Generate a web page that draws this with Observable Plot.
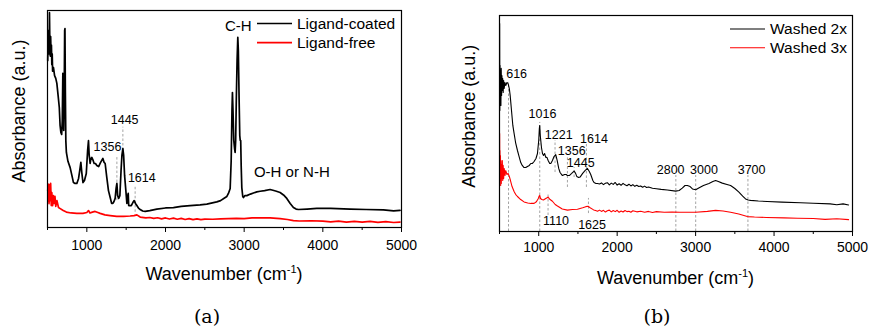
<!DOCTYPE html>
<html>
<head>
<meta charset="utf-8">
<script src="https://cdn.jsdelivr.net/npm/d3@7"></script>
<script src="https://cdn.jsdelivr.net/npm/@observablehq/plot@0.6"></script>
<style>
  html, body { margin: 0; padding: 0; background: #fff; }
  #wrap { position: relative; width: 871px; height: 328px; overflow: hidden; background: #fff; }
  #wrap svg { position: absolute; top: 0; }
  .cap { position: absolute; font-family: "DejaVu Serif", serif; font-size: 19px; color: #000; transform: translateX(-50%); line-height: 1; }
</style>
</head>
<body>
<div id="wrap"></div>
<script>
// ---------------- DATA ----------------
const majorTicks = [1000, 2000, 3000, 4000, 5000];
const minorTicks = [500, 1500, 2500, 3500, 4500];

// Panel (a): [wavenumber, absorbance a.u.]
const aCoated = [
  [503,77],[508,88],[515,90.8],[520,80],[525,99],[530,84],[535,79],[540,88],[545,80],[550,84],[555,75],[560,80],[565,72],
  [576,73.7],[590,70],[605,68.7],[619,66.4],[635,60.8],[650,55.3],[660,47],[670,43.8],[680,42.9],[688,49.3],[695,71],
  [700,53.9],[706,44.7],[712,58.5],[718,90.8],[722,91.7],[727,63],[733,40],[740,34.6],[760,30.5],[788,27.6],[810,24],
  [830,20.7],[850,20.3],[873,20.3],[895,22.6],[910,26.3],[924,30],[936,25.3],[951,20.7],[970,21.7],[993,24.9],[1010,35.5],
  [1021,40],[1030,33.2],[1042,29.5],[1052,31.8],[1063,32.3],[1080,30.9],[1093,29.5],[1110,29.5],[1127,28.6],[1150,28.1],
  [1175,30],[1204,31.8],[1220,30],[1233,29.5],[1254,23],[1275,17],[1297,13.8],[1315,11.1],[1331,11.1],[1345,12],[1360,13.4],
  [1372,18],[1382,20.3],[1392,14.7],[1405,13.4],[1420,14.7],[1435,26.3],[1446,33.2],[1458,36.4],[1468,33.2],[1480,24],
  [1496,17],[1509,11.1],[1520,14.7],[1526,15.7],[1532,10.1],[1545,10.1],[1565,10.1],[1585,11.5],[1602,12.4],[1618,11.1],
  [1636,10.1],[1660,8.8],[1678,8.3],[1710,7.6],[1742,7.4],[1800,7.8],[1890,8.5],[2000,9],[2101,9.2],[2200,9.7],[2313,10.1],
  [2440,10.4],[2525,10.8],[2652,11.8],[2700,12.4],[2750,13.6],[2780,14.3],[2800,15.7],[2822,18],[2835,30.9],[2845,53.9],
  [2851,62.2],[2858,53.9],[2868,40.1],[2878,36.4],[2885,34.6],[2892,40.1],[2900,58.5],[2910,77],[2919,87.6],[2926,81.6],
  [2936,58.5],[2944,42.4],[2950,40.1],[2956,40.1],[2962,28.6],[2970,18.4],[2982,14.3],[2991,13.8],[3010,14.7],[3034,14.7],
  [3080,15.4],[3118,15.9],[3160,16.4],[3203,16.7],[3260,17],[3330,17.5],[3400,16.8],[3457,16.1],[3500,15],[3542,13.4],
  [3585,11.1],[3626,9.2],[3660,8.5],[3690,8.3],[3800,8.5],[3923,8.8],[4100,8.8],[4346,8.5],[4550,8.3],[4770,8.1],[4900,7.7],[4981,7.9]
];
const aFree = [
  [503,17],[508,20],[512,12],[515,18.4],[520,11],[525,19.8],[530,12.4],[535,17],[540,20.3],[548,10.1],[555,16.1],[565,10.1],
  [575,14.7],[585,11.1],[595,14.3],[605,9.7],[620,12.4],[640,9.2],[657,8.8],[700,7.8],[740,7.1],[800,6.7],[873,6.5],[950,6.5],
  [1000,6.9],[1021,7.8],[1040,6.7],[1070,7.1],[1105,7.4],[1140,6.9],[1169,6.5],[1230,5.8],[1297,5.5],[1380,5.1],[1466,5.1],
  [1550,5.3],[1600,5.5],[1636,5.8],[1678,4.8],[1750,4.4],[1800,4.6],[1850,4.2],[1900,4.5],[1950,4.0],[2000,4.4],[2050,3.9],
  [2101,4.3],[2150,3.8],[2200,4.2],[2250,3.7],[2300,4.1],[2350,3.6],[2400,4.0],[2450,3.6],[2500,3.9],[2600,3.8],[2700,4.0],
  [2800,4.1],[2900,4.2],[3000,4.1],[3100,4.4],[3203,4.5],[3330,4.4],[3457,4.1],[3550,3.7],[3626,3.2],[3700,3],[3850,3.1],
  [4000,2.9],[4100,2.6],[4200,2.9],[4300,2.5],[4400,2.8],[4500,2.5],[4600,2.8],[4700,2.4],[4800,2.7],[4900,2.3],[4981,2.5]
];
const aDashX  = [1382, 1458, 1614];
const aDashY1 = [12.4, 35.5, 7];
const aDashY2 = [32.4, 46.2, 18.6];
const aPeakText = ["1356", "1445", "1614"];
const aPeakX    = [1262, 1481, 1699];
const aPeakY    = [36.9, 49.5, 22.6];
const aBandText = ["C-H", "O-H or N-H"];
const aBandX    = [2926, 3606];
const aBandY    = [92.9, 25.5];
const aLegend   = ["Ligand-coated", "Ligand-free"];

// Panel (b)
const bWashed2 = [
  [502,96.3],[504,56],[507,76.9],[510,60.6],[514,74.5],[518,58.3],[522,75.5],[527,63],[531,72.2],[536,65.3],[541,70.8],
  [547,64.4],[553,69.9],[560,66.2],[568,69],[580,67.6],[595,69],[610,68.5],[625,66.2],[636,63],[645,59.3],[653,56],
  [670,49.1],[686,45.4],[705,41.2],[729,37.5],[750,34.7],[771,31.9],[790,30.6],[813,29.6],[835,29.6],[856,30.1],[880,30.6],
  [899,31.5],[920,31.5],[941,32.4],[965,33.8],[984,36.1],[1000,42.1],[1008,47.7],[1013,49.1],[1020,44.4],[1035,38.9],
  [1048,36.1],[1061,35.2],[1075,36.1],[1090,34.3],[1105,34.3],[1120,32.9],[1140,31.5],[1154,31.5],[1175,32.9],[1195,34.7],
  [1217,35.6],[1235,32.9],[1255,29.2],[1272,27.3],[1302,25.9],[1330,26.4],[1350,26.4],[1366,25.9],[1390,25.9],[1420,26.9],
  [1451,28],[1470,26.9],[1485,25.5],[1510,25],[1527,25.2],[1560,26.9],[1590,28.2],[1621,29.2],[1645,27.8],[1663,26.4],
  [1690,23.6],[1705,22.7],[1725,22.3],[1750,22.2],[1775,22.0],[1800,22.5],[1825,21.7],[1850,22.3],[1875,22.6],[1900,21.6],
  [1925,22.4],[1950,21.8],[1975,22.7],[2000,21.5],[2025,22.1],[2050,21.4],[2075,22.3],[2100,21.6],[2125,21.2],[2150,21.9],
  [2175,21.1],[2200,21.7],[2225,20.9],[2250,21.4],[2275,20.8],[2300,21.1],[2325,20.5],[2350,21.0],[2375,20.4],[2400,20.6],
  [2450,20.0],[2500,19.8],[2560,19.5],[2640,19.2],[2746,18.7],[2790,19],[2830,20.1],[2865,21.3],[2895,21.3],[2930,20.8],
  [2960,19.7],[3001,19.3],[3040,20.1],[3100,21.3],[3170,22.2],[3220,23.1],[3255,23.6],[3290,23.1],[3340,22.4],[3400,21.8],
  [3446,21.3],[3500,19.9],[3552,18.2],[3600,16.4],[3637,15.1],[3670,14.6],[3700,14.4],[3800,14.1],[3913,13.9],[4100,13.6],
  [4338,13.3],[4500,13.1],[4715,12.8],[4800,12.4],[4880,12.8],[4950,12.3]
];
const bWashed3 = [
  [502,45.4],[504,25.9],[506,37.5],[509,23.6],[512,35.2],[515,21.3],[519,32.9],[523,22.2],[527,31],[531,24.5],[536,32.9],
  [541,23.6],[547,30.6],[553,24.5],[560,29.2],[570,25.9],[580,28.2],[595,26.4],[610,26.9],[625,25.5],[640,23.6],[660,20.8],
  [686,18.5],[705,17.2],[729,16.2],[770,14.8],[813,13.7],[860,13.2],[900,13],[941,13],[970,13.8],[995,15.3],[1005,16.4],
  [1013,16.7],[1022,15.3],[1040,14.8],[1060,14.6],[1090,15.3],[1119,15.9],[1145,14.8],[1175,14],[1210,12.5],[1239,11.8],
  [1300,10.4],[1366,9.9],[1430,10.2],[1494,10.3],[1560,11],[1600,11.5],[1629,11.7],[1650,11.1],[1700,10],[1725,9.7],
  [1750,9.4],[1775,9.9],[1800,9.3],[1825,9.8],[1850,9.0],[1875,9.6],[1900,9.9],[1925,9.1],[1950,9.7],[1975,9.2],[2000,9.8],
  [2025,8.9],[2050,9.5],[2075,9.0],[2100,9.7],[2125,9.2],[2150,9.4],[2175,8.9],[2200,9.6],[2250,9.1],[2300,9.4],[2350,8.9],
  [2400,9.3],[2450,8.8],[2500,9.2],[2600,8.9],[2700,9.0],[2800,8.9],[3001,8.9],[3150,9.3],[3255,9.8],[3350,9.5],[3446,8.9],
  [3550,8.1],[3659,6.9],[3750,6.7],[3900,6.5],[4126,6.3],[4300,6.1],[4500,6],[4650,5.6],[4800,5.9],[4950,5.5]
];
const bDashX  = [615, 1013, 1119, 1208, 1366, 1451, 1608, 1634, 2748, 3001, 3667];
const bDashY1 = [0, 0, 7.4, 27.3, 20.4, 25, 20.4, 8.3, 0, 0, 0];
const bDashY2 = [69, 50.5, 17.6, 42.1, 34.3, 29.6, 41.2, 15.3, 25.9, 25.9, 25.9];
const bPeakText = ["616", "1016", "1221", "1356", "1445", "1614", "1110", "1625", "2800", "3000", "3700"];
const bPeakX    = [718, 1048, 1255, 1421, 1536, 1705, 1221, 1680, 2682, 3106, 3714];
const bPeakY    = [73, 54.6, 44.6, 37.5, 31.5, 42.9, 5, 2.8, 28.7, 28.7, 28.7];
const bLegend   = ["Washed 2x", "Washed 3x"];

// ---------------- DRAW ----------------
const FONT = "'Liberation Sans', Arial, sans-serif";
const BLACK = "#000000", RED = "#ff0000";
const wrap = document.getElementById("wrap");

function zipDash(X, Y1, Y2) { return X.map((x, i) => ({x, y1: Y1[i], y2: Y2[i]})); }
function zipText(T, X, Y) { return T.map((t, i) => ({t, x: X[i], y: Y[i]})); }

function panel(cfg) {
  const chart = Plot.plot({
    width: 435, height: 290,
    marginLeft: cfg.ml, marginRight: cfg.mr, marginTop: cfg.mt, marginBottom: cfg.mb,
    x: {domain: [500, 5000]},
    y: {domain: [0, 100], axis: null},
    style: {fontFamily: FONT, fontSize: "14px", color: "#000", background: "transparent", overflow: "visible"},
    marks: [
      Plot.ruleX(cfg.dashes, {x: "x", y1: "y1", y2: "y2", stroke: "#9a9a9a", strokeWidth: 0.9, strokeDasharray: "2.5,2"}),
      Plot.line(cfg.red, {x: d => d[0], y: d => d[1], stroke: RED, strokeWidth: cfg.lw, strokeLinejoin: "round"}),
      Plot.line(cfg.black, {x: d => d[0], y: d => d[1], stroke: BLACK, strokeWidth: cfg.lw, strokeLinejoin: "round"}),
      Plot.text(cfg.peaks, {x: "x", y: "y", text: "t", fontSize: 12.5, fill: "#000"}),
      ...(cfg.bands ? [Plot.text(cfg.bands, {x: "x", y: "y", text: "t", fontSize: 15, fill: "#000"})] : []),
      Plot.frame({stroke: "#000", strokeWidth: 1.2}),
      Plot.axisX({ticks: minorTicks, tickSize: 3, tickFormat: () => "", label: null}),
      Plot.axisX({ticks: majorTicks, tickSize: 5, tickPadding: cfg.tp, tickFormat: d => String(d), fontSize: 14, label: null}),
      Plot.text(["Absorbance (a.u.)"], {frameAnchor: "left", rotate: -90, dx: cfg.ylx, dy: cfg.yly, textAnchor: "middle", fontSize: 18, fill: "#000"})
    ]
  });
  chart.style.left = cfg.left + "px";
  const sx = chart.scale("x");
  const cx = (sx.range[0] + sx.range[1]) / 2;
  const svg = d3.select(chart);
  // x axis title with superscript
  const t = svg.append("text")
    .attr("x", cx).attr("y", 290 - cfg.mb + 53)
    .attr("text-anchor", "middle")
    .style("font-family", FONT).style("font-size", "18px").attr("fill", "#000");
  t.append("tspan").text("Wavenumber (cm");
  t.append("tspan").attr("dy", -7).style("font-size", "11px").text("-1");
  t.append("tspan").attr("dy", 7).text(")");
  // legend
  const lg = svg.append("g").style("font-family", FONT).style("font-size", "15.5px");
  cfg.legend.forEach((name, i) => {
    const y = cfg.legY[i];
    lg.append("line").attr("x1", cfg.legX1).attr("x2", cfg.legX2).attr("y1", y).attr("y2", y)
      .attr("stroke", i === 0 ? BLACK : RED).attr("stroke-width", cfg.legW);
    lg.append("text").attr("x", cfg.legX2 + 5).attr("y", y).attr("dy", "0.35em")
      .attr("text-anchor", "start").attr("fill", "#000").text(name);
  });
  wrap.appendChild(chart);
}

panel({
  left: 0, ml: 47, mr: 34, mt: 10, mb: 63, tp: 8, lw: 1.7,
  ylx: -28.5, yly: -8,
  black: aCoated, red: aFree,
  dashes: zipDash(aDashX, aDashY1, aDashY2),
  peaks: zipText(aPeakText, aPeakX, aPeakY),
  bands: zipText(aBandText, aBandX, aBandY),
  legend: aLegend, legX1: 257, legX2: 292, legY: [23.5, 42.7], legW: 1.7
});
panel({
  left: 436, ml: 63, mr: 19, mt: 15, mb: 59, tp: 6, lw: 1.1,
  ylx: -30.5, yly: -7.3,
  black: bWashed2, red: bWashed3,
  dashes: zipDash(bDashX, bDashY1, bDashY2),
  peaks: zipText(bPeakText, bPeakX, bPeakY),
  bands: null,
  legend: bLegend, legX1: 294, legX2: 329, legY: [29, 47.7], legW: 1.1
});

// captions
[["(a)", 207], ["(b)", 657]].forEach(([txt, x]) => {
  const d = document.createElement("div");
  d.className = "cap";
  d.textContent = txt;
  d.style.left = x + "px";
  d.style.top = "307px";
  wrap.appendChild(d);
});
</script>
</body>
</html>
